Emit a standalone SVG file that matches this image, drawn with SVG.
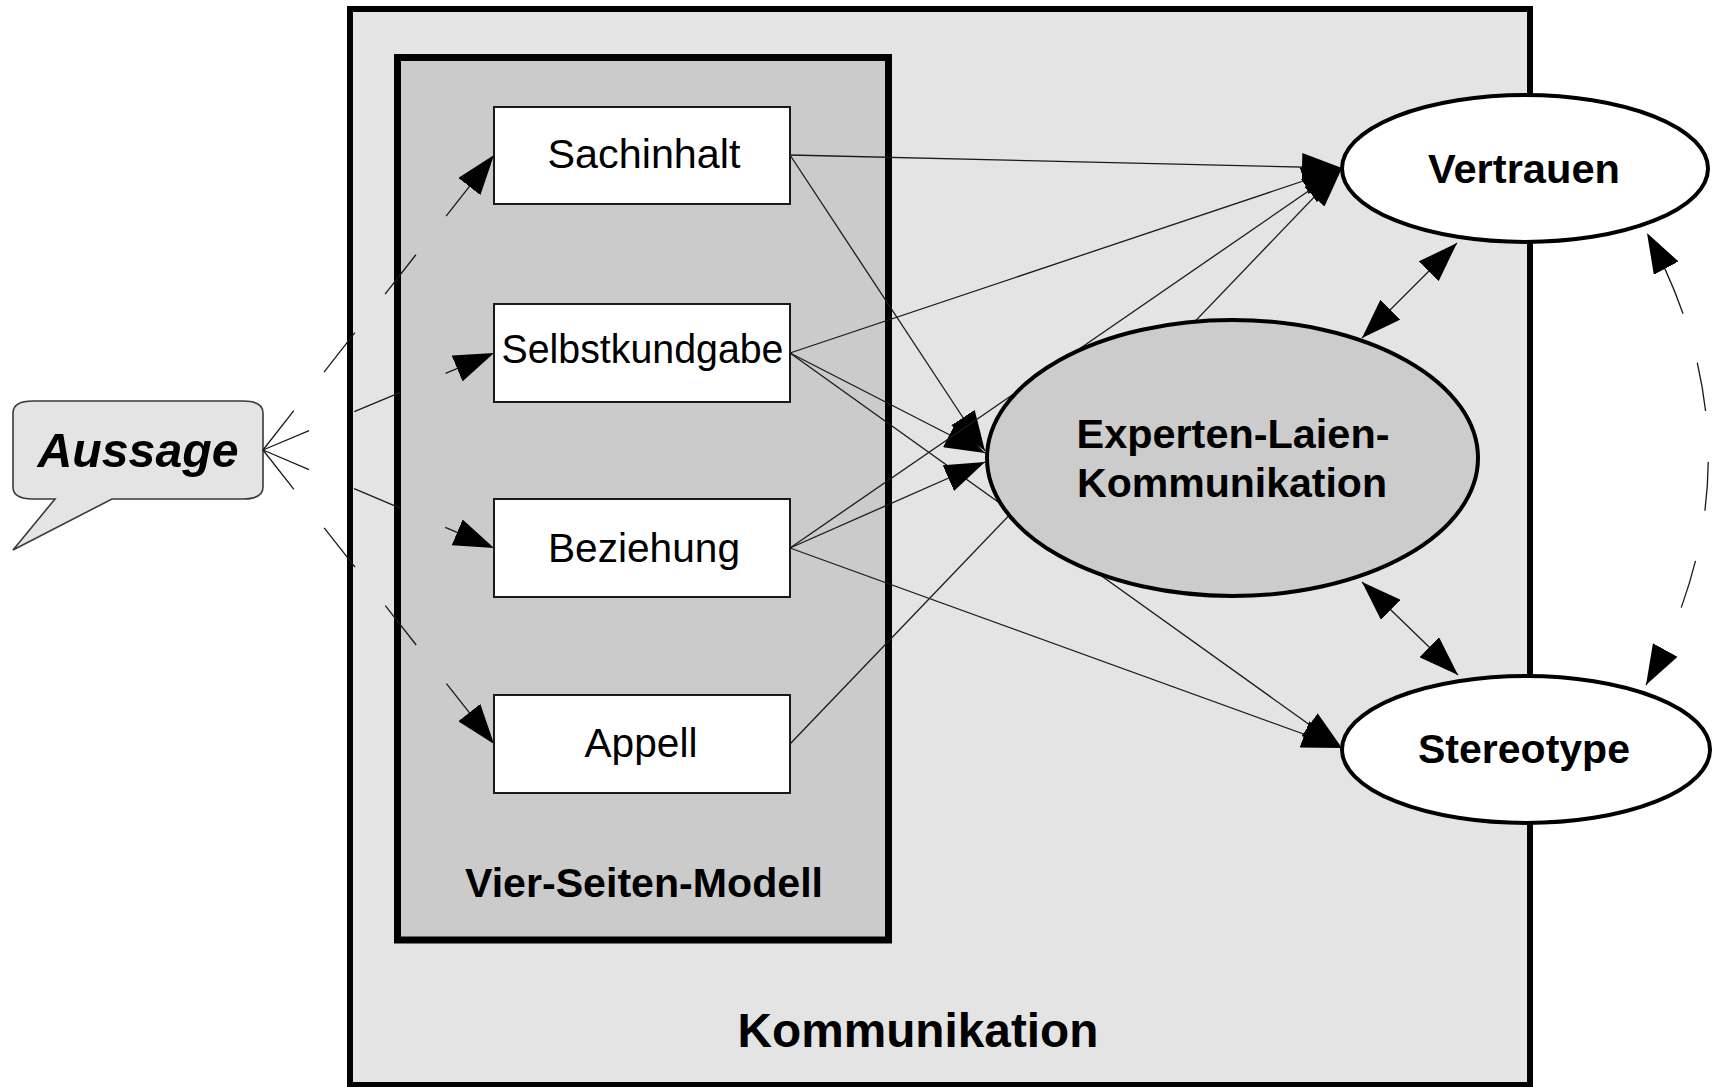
<svg xmlns="http://www.w3.org/2000/svg" width="1713" height="1087" viewBox="0 0 1713 1087">
<style>
  .t{font-family:"Liberation Sans",Arial,Helvetica,sans-serif;fill:#000;text-anchor:middle}
  .reg{font-size:41px}
  .bold{font-size:41px;font-weight:bold}
  .con{fill:none;stroke:#1a1a1a;stroke-width:1.3}
  .dash{stroke-dasharray:50 49}
  .box{fill:#fff;stroke:#1a1a1a;stroke-width:2}
  .ell{stroke:#000;stroke-width:4}
</style>
<defs>
  <marker id="ah" markerUnits="userSpaceOnUse" markerWidth="40" markerHeight="28" viewBox="0 0 40 28" refX="40" refY="14" orient="auto-start-reverse">
    <path d="M0,0 L40,14 L0,28 Z" fill="#000" stroke="none"/>
  </marker>
</defs>

<g id="kommunikation">
  <rect x="350" y="9" width="1180" height="1076" fill="#e4e4e4" stroke="#000" stroke-width="6"/>
  <text class="t bold" x="918" y="1047" style="font-size:47.5px" textLength="361" lengthAdjust="spacingAndGlyphs">Kommunikation</text>
</g>

<g id="vier-seiten-modell">
  <rect x="397.5" y="57.5" width="491" height="882.5" fill="#cbcbcb" stroke="#000" stroke-width="7"/>
  <text class="t bold" x="644" y="897" textLength="358" lengthAdjust="spacingAndGlyphs">Vier-Seiten-Modell</text>
</g>

<g id="aussage">
  <path d="M33,401 H243 Q263,401 263,413 V487 Q263,499 243,499 H112 L13,550 L55,499 H33 Q13,499 13,487 V413 Q13,401 33,401 Z" fill="#e4e4e4" stroke="#3a3a3a" stroke-width="1.6"/>
  <text class="t" x="138" y="467" style="font-size:48px;font-weight:bold;font-style:italic" textLength="201" lengthAdjust="spacingAndGlyphs">Aussage</text>
</g>

<g id="connectors">
  <!-- Aussage to four sides (dashed) -->
  <path class="con dash" d="M263,450 L494,155" marker-end="url(#ah)"/>
  <path class="con dash" d="M263,450 L494,353" marker-end="url(#ah)"/>
  <path class="con dash" d="M263,450 L494,548" marker-end="url(#ah)"/>
  <path class="con dash" d="M263,450 L494,744" marker-end="url(#ah)"/>
  <!-- four sides to outcomes -->
  <path class="con" d="M790,155 L1342,168" marker-end="url(#ah)"/>
  <path class="con" d="M790,155 L985,451" marker-end="url(#ah)"/>
  <path class="con" d="M790,353 L1342,168" marker-end="url(#ah)"/>
  <path class="con" d="M790,353 L985,453" marker-end="url(#ah)"/>
  <path class="con" d="M790,353 L1342,748" marker-end="url(#ah)"/>
  <path class="con" d="M790,548 L1342,168" marker-end="url(#ah)"/>
  <path class="con" d="M790,548 L985,462" marker-end="url(#ah)"/>
  <path class="con" d="M790,548 L1342,748" marker-end="url(#ah)"/>
  <path class="con" d="M790,744 L1342,168" marker-end="url(#ah)"/>
  <!-- double-headed relations -->
  <path class="con" d="M1362,338 L1457,243" marker-start="url(#ah)" marker-end="url(#ah)"/>
  <path class="con" d="M1362,582 L1458,675" marker-start="url(#ah)" marker-end="url(#ah)"/>
  <path class="con" d="M1646,685 Q1770,459 1647,233" style="stroke-dasharray:49 51;stroke-dashoffset:15" marker-start="url(#ah)" marker-end="url(#ah)"/>
</g>

<g id="experten-laien-kommunikation">
  <ellipse class="ell" cx="1232.5" cy="458" rx="245.5" ry="138" fill="#cccccc"/>
  <text class="t bold" x="1233" y="448" textLength="313" lengthAdjust="spacingAndGlyphs">Experten-Laien-</text>
  <text class="t bold" x="1232" y="497" textLength="310" lengthAdjust="spacingAndGlyphs">Kommunikation</text>
</g>

<g id="sachinhalt">
  <rect class="box" x="494" y="107" width="296" height="97"/>
  <text class="t reg" x="644" y="168" textLength="193" lengthAdjust="spacingAndGlyphs">Sachinhalt</text>
</g>
<g id="selbstkundgabe">
  <rect class="box" x="494" y="304" width="296" height="98"/>
  <text class="t reg" x="642.5" y="363" textLength="282" lengthAdjust="spacingAndGlyphs">Selbstkundgabe</text>
</g>
<g id="beziehung">
  <rect class="box" x="494" y="499" width="296" height="98"/>
  <text class="t reg" x="644" y="562" textLength="192" lengthAdjust="spacingAndGlyphs">Beziehung</text>
</g>
<g id="appell">
  <rect class="box" x="494" y="695" width="296" height="98"/>
  <text class="t reg" x="641" y="757" textLength="113" lengthAdjust="spacingAndGlyphs">Appell</text>
</g>

<g id="vertrauen">
  <ellipse class="ell" cx="1525" cy="168.5" rx="183" ry="73.5" fill="#fff"/>
  <text class="t bold" x="1524" y="183" textLength="192" lengthAdjust="spacingAndGlyphs">Vertrauen</text>
</g>
<g id="stereotype">
  <ellipse class="ell" cx="1526" cy="749.5" rx="184" ry="73.5" fill="#fff"/>
  <text class="t bold" x="1524" y="763" textLength="212" lengthAdjust="spacingAndGlyphs">Stereotype</text>
</g>
</svg>
